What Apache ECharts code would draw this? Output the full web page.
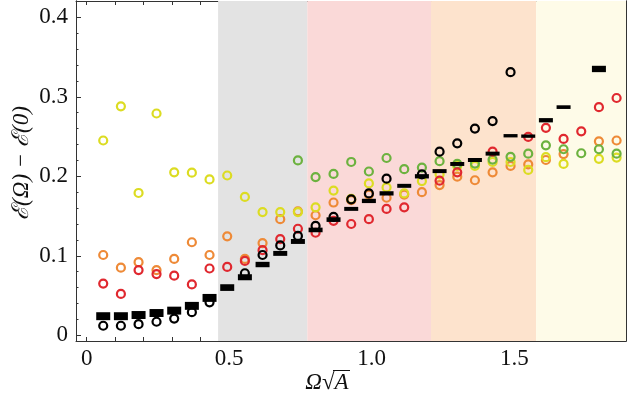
<!DOCTYPE html>
<html>
<head>
<meta charset="utf-8">
<script src="https://cdn.jsdelivr.net/npm/echarts@6/dist/echarts.min.js"></script>
<style>
html,body{margin:0;padding:0;background:#fff;}
#chart{width:628px;height:401px;}
</style>
</head>
<body>
<div id="chart"></div>
<script>
// ---- data ----
const xVals = [0.058,0.120,0.182,0.245,0.307,0.369,0.431,0.493,0.555,0.617,
               0.679,0.741,0.803,0.866,0.928,0.990,1.052,1.114,1.176,1.238,
               1.300,1.362,1.424,1.487,1.549,1.611,1.673,1.735,1.797,1.859];
const yellowVals = [0.245,0.288,0.179,0.279,0.205,0.2045,0.196,0.201,0.174,0.155,
                    0.155,0.155,0.161,0.182,0.1715,0.191,0.186,0.1785,0.194,0.2025,
                    0.213,0.213,0.218,0.218,0.208,0.224,0.2155,null,0.222,0.2235];
const greenVals = [null,null,null,null,null,null,null,null,null,null,
                   null,0.220,0.199,0.203,0.218,0.206,0.223,0.209,0.211,0.219,
                   0.2155,0.216,0.221,0.2245,0.2285,0.239,0.234,0.229,0.234,0.2285];
const orangeVals = [0.101,0.085,0.092,0.082,0.096,0.117,0.101,0.1245,0.096,0.116,
                    0.146,0.156,0.151,0.167,0.170,0.177,0.173,0.177,0.180,0.189,
                    0.1995,0.195,0.205,0.213,0.215,0.2205,0.228,null,0.244,0.245];
const redVals = [0.065,0.052,0.082,0.077,0.075,0.064,0.084,0.086,0.0935,0.107,
                 0.121,0.134,0.129,0.144,0.140,0.146,0.159,0.161,null,0.1945,
                 0.205,null,0.231,null,0.2495,0.261,0.247,0.2565,0.287,0.2985];
const blackCircleVals = [0.012,0.012,0.014,0.017,0.021,0.029,0.0415,null,0.078,0.101,
                         0.113,0.125,0.1375,0.149,0.171,0.1785,0.197,null,0.2025,0.231,
                         0.2415,0.260,0.2695,0.331,null,null,null,null,null,null];
const blackMeanVals = [0.024,0.024,0.0255,0.028,0.031,0.037,0.047,0.060,0.073,0.089,
                       0.103,0.118,0.1325,0.1455,0.159,0.169,0.1785,0.188,0.200,0.2065,
                       0.2155,0.2205,0.2285,0.251,0.2505,0.2705,0.287,null,0.335,null];
const blackErrVals = [0.005,0.005,0.005,0.005,0.005,0.005,0.005,0.0042,0.0038,0.0034,
                      0.0031,0.0031,0.0029,0.0029,0.0025,0.0027,0.0027,0.0025,0.0027,0.0025,
                      0.0025,0.0025,0.0025,0.0021,0.0021,0.0027,0.0023,null,0.004,null];
const bandRanges = [[0.461,0.774],[0.774,1.208],[1.208,1.577],[1.577,1.892]];
const xTickLabels = [0, 0.5, 1.0, 1.5];
const yTickLabels = [0, 0.1, 0.2, 0.3, 0.4];

// ---- styling ----
const xMin = -0.0375, xMax = 1.892, yMin = -0.0072, yMax = 0.4205;
const bandColors = ['#e3e3e3','#fad9d8','#fde3cd','#fefbe8'];
const serif = "'Liberation Serif','DejaVu Serif',serif";
const frameColor = '#333';

function pairs(vals){
  const out = [];
  vals.forEach((v,i)=>{ if (v !== null) out.push([xVals[i], v]); });
  return out;
}
const barData = [];
blackMeanVals.forEach((m,i)=>{ if (m !== null) barData.push([xVals[i], m - blackErrVals[i], m + blackErrVals[i]]); });

const xMinor = []; for (let i=0;i<=18;i++) xMinor.push(+(i*0.1).toFixed(1));
const yMinor = []; for (let i=0;i<=21;i++) yMinor.push(+(i*0.02).toFixed(2));

const fmt = v => (Math.abs(v) < 1e-9 ? '0' : v.toFixed(1));

function xAx(pos, labels, ticks, len){
  return {
    type:'value', position:pos, min:xMin, max:xMax, gridIndex:0,
    axisLine:{show:true, onZero:false, lineStyle:{color:frameColor, width:1}},
    axisTick:{show:true, inside:true, length:len, customValues:ticks, lineStyle:{color:frameColor, width:1}},
    axisLabel:{show:labels, customValues:xTickLabels, formatter:fmt, fontFamily:serif, fontSize:23, color:'#111', margin:6},
    splitLine:{show:false}
  };
}
function yAx(pos, labels, ticks, len){
  return {
    type:'value', position:pos, min:yMin, max:yMax, gridIndex:0,
    axisLine:{show:true, onZero:false, lineStyle:{color:frameColor, width:1}},
    axisTick:{show:true, inside:true, length:len, customValues:ticks, lineStyle:{color:frameColor, width:1}},
    axisLabel:{show:labels, customValues:yTickLabels, formatter:fmt, fontFamily:serif, fontSize:23, color:'#111', margin:8},
    splitLine:{show:false}
  };
}

function circleSeries(name, vals, color, z){
  return {
    name, type:'scatter', xAxisIndex:0, yAxisIndex:0, data:pairs(vals),
    symbol:'circle', symbolSize:8, z,
    itemStyle:{color:'rgba(0,0,0,0)', borderColor:color, borderWidth:2.2, opacity:1},
    emphasis:{disabled:true}
  };
}

const chart = echarts.init(document.getElementById('chart'), null, {renderer:'canvas'});
chart.setOption({
  animation:false,
  backgroundColor:'#fff',
  grid:{left:76, right:2, top:1, bottom:60, containLabel:false},
  xAxis:[
    xAx('bottom', true, xMinor, 4),
    xAx('top', false, xMinor, 4)
  ],
  yAxis:[
    yAx('left', true, yTickLabels, 5),
    yAx('left', false, yMinor, 2.5),
    yAx('right', false, yTickLabels, 5),
    yAx('right', false, yMinor, 2.5)
  ],
  series:[
    {
      type:'scatter', xAxisIndex:0, yAxisIndex:0, data:[], z:0,
      markArea:{
        silent:true,
        data: bandRanges.map((r,i)=>[{xAxis:r[0], itemStyle:{color:bandColors[i], opacity:1}}, {xAxis:r[1]}])
      }
    },
    circleSeries('orange', orangeVals, '#ee8a37', 2),
    circleSeries('yellow', yellowVals, '#dcdc22', 3),
    circleSeries('green', greenVals, '#6cb23f', 4),
    circleSeries('red', redVals, '#e0282f', 5),
    circleSeries('black', blackCircleVals, '#000000', 6),
    {
      type:'custom', xAxisIndex:0, yAxisIndex:0, z:7, data:barData,
      encode:{x:0, y:[1,2]},
      renderItem:(params, api)=>{
        const x = api.value(0), lo = api.value(1), hi = api.value(2);
        const pTop = api.coord([x, hi]);
        const pBot = api.coord([x, lo]);
        const h = Math.max(pBot[1]-pTop[1], 3);
        return {type:'rect', shape:{x:pTop[0]-7, y:pTop[1], width:14, height:h}, style:{fill:'#000'}};
      }
    }
  ],
  graphic:[
    {
      type:'text', x:22, y:163, rotation:Math.PI/2,
      style:{text:'ℰ(Ω) − ℰ(0)', font:"italic 23px 'Liberation Serif','DejaVu Serif',serif", fill:'#111', textAlign:'center', textVerticalAlign:'middle'}
    },
    {
      type:'text', x:327, y:383,
      style:{text:'Ω√A', font:"italic 23px 'Liberation Serif','DejaVu Serif',serif", fill:'#111', textAlign:'center', textVerticalAlign:'middle'}
    },
    {
      type:'line', shape:{x1:333, y1:370.5, x2:350, y2:370.5}, style:{stroke:'#111', lineWidth:1}
    }
  ]
});
</script>
</body>
</html>
